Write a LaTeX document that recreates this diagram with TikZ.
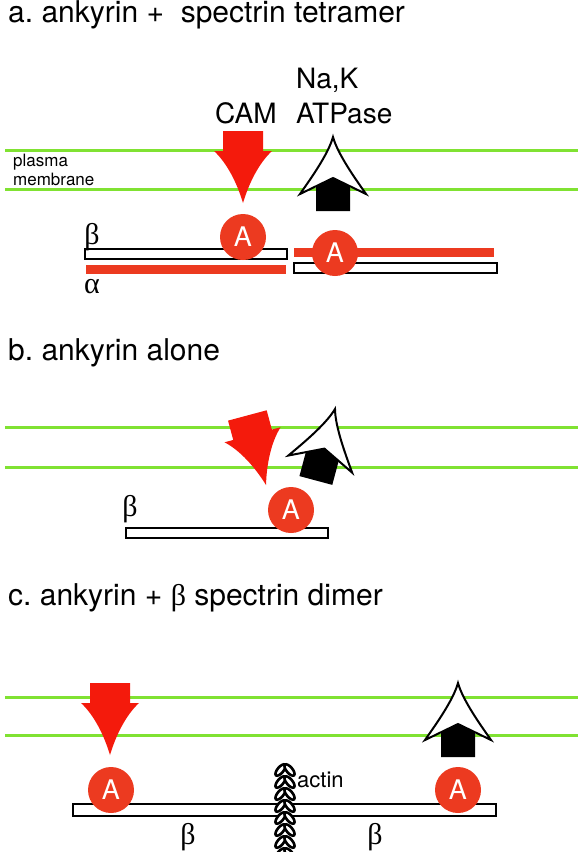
\documentclass[tikz,border=0pt]{standalone}
\usepackage{fontspec}
\setmainfont{TeX Gyre Heros}
\newfontfamily\greekfont{Liberation Serif}

\definecolor{camred}{RGB}{244,26,12}
\definecolor{ankred}{RGB}{236,58,32}
\definecolor{lipidgreen}{RGB}{128,226,50}

\tikzset{
  paneltitle/.style={anchor=base west, inner sep=0pt, font=\fontsize{30}{36}\selectfont},
  protname/.style={anchor=base west, inner sep=0pt, font=\fontsize{28}{34}\selectfont},
  smalltext/.style={anchor=base west, inner sep=0pt, font=\fontsize{17}{19}\selectfont},
  greek/.style={inner sep=0pt, font=\greekfont\fontsize{30}{30}\selectfont},
  ankyrin/.style={circle, fill=ankred, text=white, minimum size=46pt, inner sep=0pt,
    font=\fontsize{27}{27}\selectfont},
  membrane/.style={lipidgreen, line width=3pt},
  spectrin/.style={draw=black, fill=white, line width=2.2pt},
  alphabar/.style={fill=ankred},
  leaf/.style={draw=black, fill=white, line width=2.6pt},
  % red CAM arrow, tip at the origin
  pics/camarrow/.style={code={
    \fill[camred] (0,0) .. controls (-6,-20) and (-16,-40) .. (-29,-52)
      -- (-20,-52) -- (-20,-72) -- (20,-72) -- (20,-52) -- (29,-52)
      .. controls (16,-40) and (6,-20) .. (0,0) -- cycle;
  }},
  % Na,K ATPase arrow, tip at the origin
  pics/pumparrow/.style={code={
    \filldraw[fill=white, draw=black, line width=2pt] (0,0)
      .. controls (-5,18) and (-24,44) .. (-33,57) -- (0,41) -- (33,57)
      .. controls (24,44) and (5,18) .. (0,0) -- cycle;
    \fill[black] (-17,74) -- (-17,49) -- (0,41) -- (17,49) -- (17,74) -- cycle;
  }}
}

\begin{document}
\begin{tikzpicture}[x=1pt,y=-1pt]
    \useasboundingbox (0,0) rectangle (580,852);

    % Membrane lines of the three panels
    \foreach \y in {150,189,427,467,697,735}
        \draw[membrane] (5,\y) -- (578,\y);

    % a. ankyrin + spectrin tetramer
    \node[paneltitle] (ta) at (8,22) {a.\ ankyrin +\ \ spectrin tetramer};
    \node[smalltext] (plasma) at (13,166) {plasma};
    \node[smalltext] (memb) at (13,185) {membrane};
    \node[protname] (cam) at (215,123) {CAM};
    \node[protname] (nak) at (296,88) {Na,K};
    \node[protname] (atp) at (296,123) {ATPase};
    \draw[spectrin] (85,249) rectangle (287,259);
    \fill[alphabar] (86,265) rectangle (286,274);
    \fill[alphabar] (294,248) rectangle (494,257);
    \draw[spectrin] (294,263) rectangle (497,273);
    \node[greek] (ba) at (92,237) {β};
    \node[greek] (al) at (92,287) {α};
    \pic at (243,203) {camarrow};
    \pic at (333,137) {pumparrow};
    \node[ankyrin] (A1) at (243,237) {A};
    \node[ankyrin] (A2) at (335,253) {A};

    % b. ankyrin alone
    \node[paneltitle] (tb) at (8,360) {b.\ ankyrin alone};
    \draw[spectrin] (126,528) rectangle (328,538);
    \node[greek] (bb) at (130,509) {β};
    \pic[rotate=15] at (266,485) {camarrow};
    \pic[rotate=-15] at (335,409) {pumparrow};
    \node[ankyrin] (A3) at (291,510) {A};

    % c. ankyrin + beta spectrin dimer
    \node[paneltitle] (tc) at (8,605) {c.\ ankyrin + {\greekfont β} spectrin dimer};
    \draw[spectrin] (73,804) rectangle (496,816);
    \node[greek] (bc1) at (188,837) {β};
    \node[greek] (bc2) at (375,837) {β};
    \pic at (110,755) {camarrow};
    \pic at (458,683) {pumparrow};
    \node[ankyrin] (A4) at (111,790) {A};
    \node[ankyrin] (A5) at (458,790) {A};

    % actin filament
    \foreach \k in {0,...,7} {
        \pgfmathsetmacro\yy{764+12*\k}
        \draw[leaf, rotate around={50:(280.5,\yy+6)}] (280.5,\yy+6) ellipse (7 and 3);
        \draw[leaf, rotate around={-50:(289.5,\yy+6)}] (289.5,\yy+6) ellipse (7 and 3);
    }
    \node[anchor=base west, inner sep=0pt, font=\fontsize{22}{22}\selectfont] (actin) at (297,787) {actin};
\end{tikzpicture}
\end{document}
